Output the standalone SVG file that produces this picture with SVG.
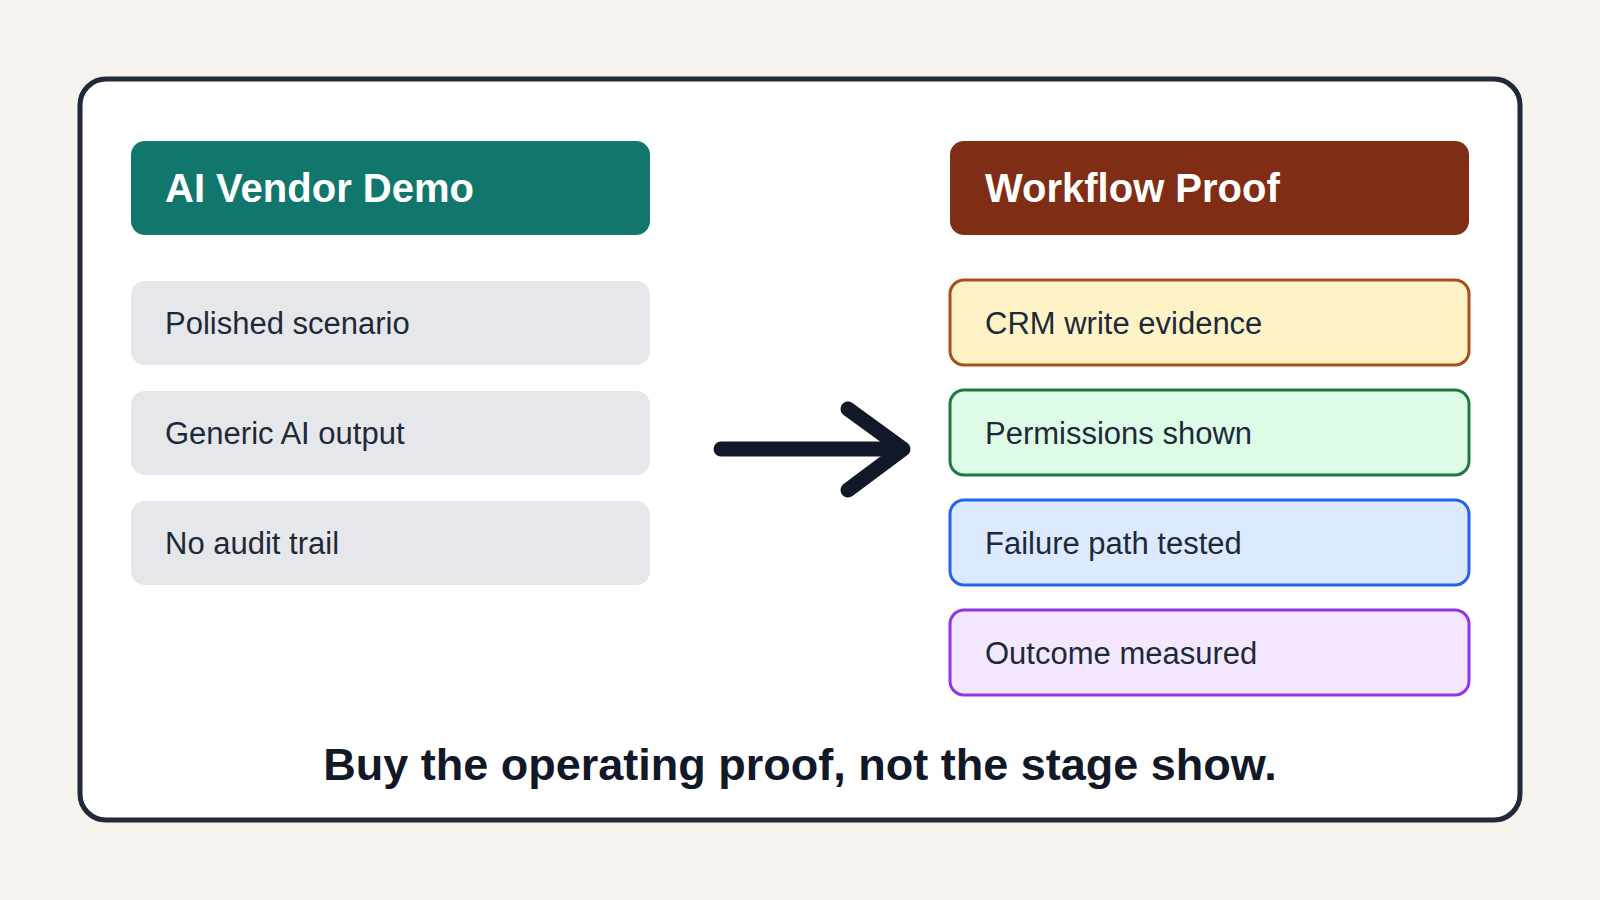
<svg xmlns="http://www.w3.org/2000/svg" width="1600" height="900" viewBox="0 0 1600 900">
<style>
.h{font-family:"Liberation Sans",Arial,sans-serif;font-weight:bold;font-size:40px;fill:#fff}
.t{font-family:"Liberation Sans",Arial,sans-serif;font-size:31px;fill:#1f2937}
.g{fill:#e5e7eb}
</style>
<rect width="1600" height="900" fill="#f6f3ee"/>
<rect x="80" y="79" width="1440" height="741" rx="26" fill="#fff" stroke="#1f2937" stroke-width="5"/>
<g id="left-header"><rect x="131" y="141" width="519" height="94" rx="14" fill="#11776d"/><text class="h" x="165" y="202">AI Vendor Demo</text></g>
<g id="l1"><rect class="g" x="131" y="281" width="519" height="84" rx="14"/><text class="t" x="165" y="334" fill="#374151">Polished scenario</text></g>
<g id="l2"><rect class="g" x="131" y="391" width="519" height="84" rx="14"/><text class="t" x="165" y="444">Generic AI output</text></g>
<g id="l3"><rect class="g" x="131" y="501" width="519" height="84" rx="14"/><text class="t" x="165" y="554">No audit trail</text></g>
<g id="right-header"><rect x="950" y="141" width="519" height="94" rx="14" fill="#7f2d14"/><text class="h" x="985" y="202">Workflow Proof</text></g>
<g id="r1"><rect x="950" y="280" width="519" height="85" rx="14" fill="#fef3c7" stroke="#a8501a" stroke-width="3"/><text class="t" x="985" y="334">CRM write evidence</text></g>
<g id="r2"><rect x="950" y="390" width="519" height="85" rx="14" fill="#dcfce7" stroke="#1f7a3f" stroke-width="3"/><text class="t" x="985" y="444">Permissions shown</text></g>
<g id="r3"><rect x="950" y="500" width="519" height="85" rx="14" fill="#dbeafe" stroke="#2563eb" stroke-width="3"/><text class="t" x="985" y="554">Failure path tested</text></g>
<g id="r4"><rect x="950" y="610" width="519" height="85" rx="14" fill="#f3e8ff" stroke="#9333ea" stroke-width="3"/><text class="t" x="985" y="664">Outcome measured</text></g>
<g id="connectors" fill="none" stroke="#111827" stroke-width="15" stroke-linecap="round" stroke-linejoin="round">
<path d="M721 449 H900"/><path d="M848 409 L903 449 L848 490"/>
</g>
<text x="800" y="780" text-anchor="middle" font-family="Liberation Sans,Arial,sans-serif" font-weight="bold" font-size="45" fill="#111827">Buy the operating proof, not the stage show.</text>
</svg>
